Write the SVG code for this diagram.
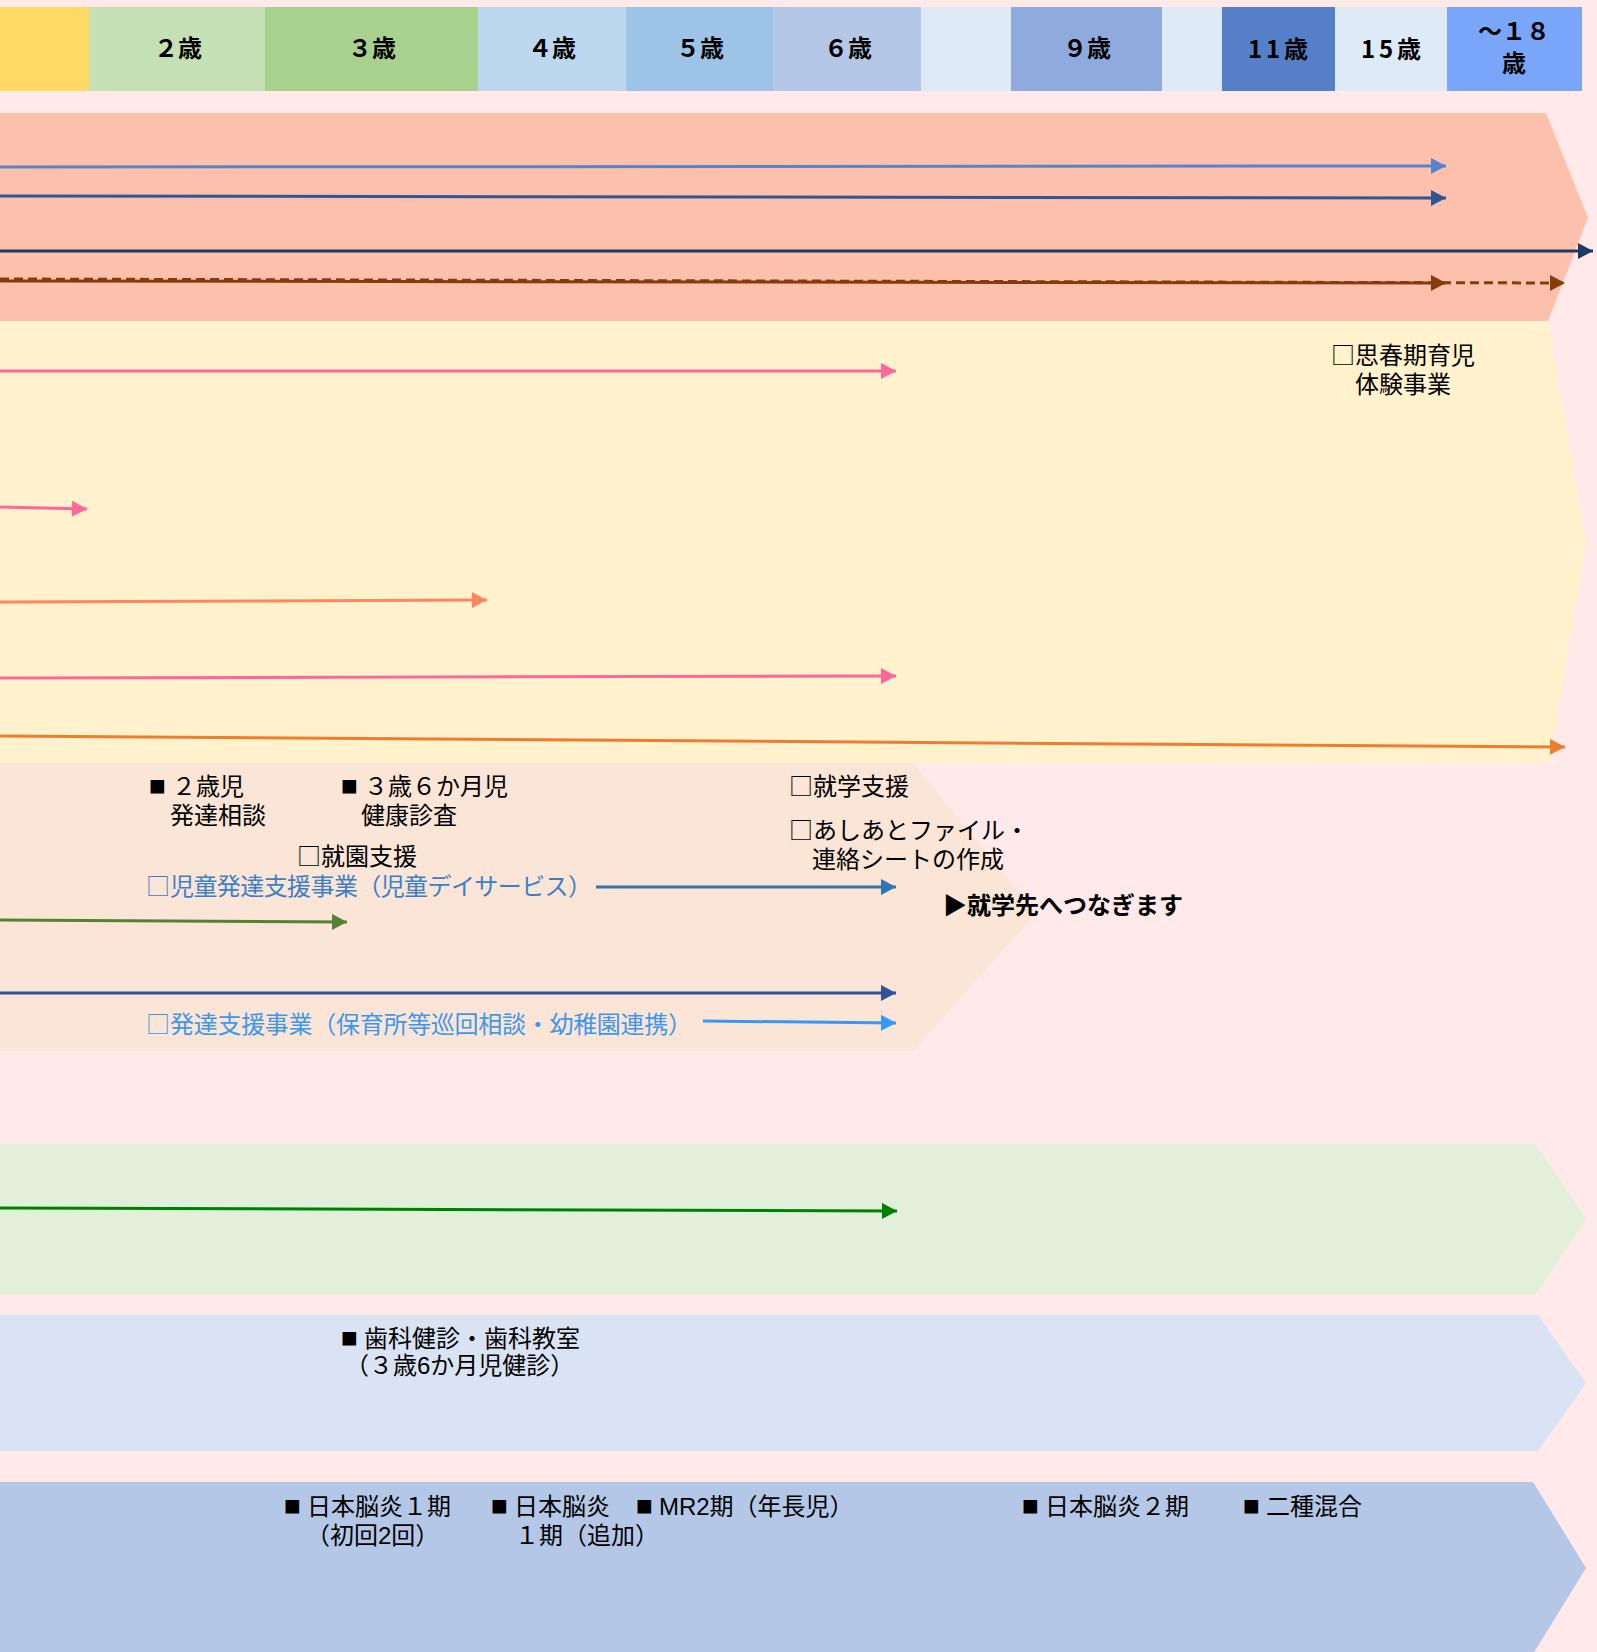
<svg xmlns="http://www.w3.org/2000/svg" width="1597" height="1652" viewBox="0 0 1597 1652">
<style>
.t{font-family:"Liberation Sans","Noto Sans CJK JP",sans-serif;font-size:24px;fill:#000}
.sq{font-family:"Noto Sans CJK JP",sans-serif}
.bk{font-size:28px}
.h{font-family:"Noto Sans CJK JP","Noto Sans",sans-serif;font-size:24px;font-weight:bold;fill:#000;text-anchor:middle}
.b{font-weight:bold}
.ln{fill:none;stroke-width:3}
</style>
<defs>
<marker id="m1" viewBox="0 0 15 16" refX="15" refY="8" markerWidth="15" markerHeight="16" markerUnits="userSpaceOnUse" orient="auto"><path d="M0,0L15,8L0,16Z" fill="#5585D0"/></marker>
<marker id="m2" viewBox="0 0 15 16" refX="15" refY="8" markerWidth="15" markerHeight="16" markerUnits="userSpaceOnUse" orient="auto"><path d="M0,0L15,8L0,16Z" fill="#2F5597"/></marker>
<marker id="m3" viewBox="0 0 15 16" refX="15" refY="8" markerWidth="15" markerHeight="16" markerUnits="userSpaceOnUse" orient="auto"><path d="M0,0L15,8L0,16Z" fill="#203864"/></marker>
<marker id="m4" viewBox="0 0 15 16" refX="15" refY="8" markerWidth="15" markerHeight="16" markerUnits="userSpaceOnUse" orient="auto"><path d="M0,0L15,8L0,16Z" fill="#843C0C"/></marker>
<marker id="m5" viewBox="0 0 15 16" refX="15" refY="8" markerWidth="15" markerHeight="16" markerUnits="userSpaceOnUse" orient="auto"><path d="M0,0L15,8L0,16Z" fill="#FF6699"/></marker>
<marker id="m6" viewBox="0 0 15 16" refX="15" refY="8" markerWidth="15" markerHeight="16" markerUnits="userSpaceOnUse" orient="auto"><path d="M0,0L15,8L0,16Z" fill="#FF8661"/></marker>
<marker id="m7" viewBox="0 0 15 16" refX="15" refY="8" markerWidth="15" markerHeight="16" markerUnits="userSpaceOnUse" orient="auto"><path d="M0,0L15,8L0,16Z" fill="#ED7D31"/></marker>
<marker id="m8" viewBox="0 0 15 16" refX="15" refY="8" markerWidth="15" markerHeight="16" markerUnits="userSpaceOnUse" orient="auto"><path d="M0,0L15,8L0,16Z" fill="#2E75B6"/></marker>
<marker id="m9" viewBox="0 0 15 16" refX="15" refY="8" markerWidth="15" markerHeight="16" markerUnits="userSpaceOnUse" orient="auto"><path d="M0,0L15,8L0,16Z" fill="#548235"/></marker>
<marker id="m10" viewBox="0 0 15 16" refX="15" refY="8" markerWidth="15" markerHeight="16" markerUnits="userSpaceOnUse" orient="auto"><path d="M0,0L15,8L0,16Z" fill="#3399FF"/></marker>
<marker id="m11" viewBox="0 0 15 16" refX="15" refY="8" markerWidth="15" markerHeight="16" markerUnits="userSpaceOnUse" orient="auto"><path d="M0,0L15,8L0,16Z" fill="#008000"/></marker>
</defs>
<rect x="0" y="0" width="1597" height="1652" fill="#FFE9E9"/>

<g id="header">
<rect x="0" y="7" width="89" height="84" fill="#FFD966"/>
<rect x="89" y="7" width="176" height="84" fill="#C5E0B4"/>
<rect x="265" y="7" width="213" height="84" fill="#A9D18E"/>
<rect x="478" y="7" width="148" height="84" fill="#BDD7EE"/>
<rect x="626" y="7" width="147" height="84" fill="#9DC3E6"/>
<rect x="773" y="7" width="148" height="84" fill="#B4C7E7"/>
<rect x="921" y="7" width="90" height="84" fill="#DEEBF7"/>
<rect x="1011" y="7" width="151" height="84" fill="#8FAADC"/>
<rect x="1162" y="7" width="60" height="84" fill="#DEEBF7"/>
<rect x="1222" y="7" width="113" height="84" fill="#5580C7"/>
<rect x="1335" y="7" width="112" height="84" fill="#DEEBF7"/>
<rect x="1447" y="7" width="135" height="84" fill="#7AA6FA"/>
<text class="h" x="178" y="57">２歳</text>
<text class="h" x="372" y="57">３歳</text>
<text class="h" x="552" y="57">４歳</text>
<text class="h" x="700" y="57">５歳</text>
<text class="h" x="848" y="57">６歳</text>
<text class="h" x="1087" y="57">９歳</text>
<text class="h" x="1278" y="58" textLength="60" lengthAdjust="spacing">11歳</text>
<text class="h" x="1391" y="58" textLength="60" lengthAdjust="spacing">15歳</text>
<text class="h" x="1514"><tspan x="1514" y="40">～１８</tspan><tspan x="1514" y="72">歳</tspan></text>
</g>

<g id="band1"><polygon points="0,113 1546,113 1588,218 1548,321 0,321" fill="#FCC0AC"/></g>
<g id="band2"><polygon points="0,321 1548,321 1586,542 1549,763 0,763" fill="#FFF2CC"/></g>
<g id="band3"><polygon points="0,763 913,763 1036,913 913,1051 0,1051" fill="#FBE5D6"/></g>
<g id="band4"><polygon points="0,1144 1535,1144 1586,1219 1535,1295 0,1295" fill="#E2EFDA"/></g>
<g id="band5"><polygon points="0,1315 1538,1315 1586,1383 1538,1451 0,1451" fill="#DAE3F3"/></g>
<g id="band6"><polygon points="0,1482 1533,1482 1586,1568 1533,1654 0,1654" fill="#B4C7E7"/></g>

<g id="connectors">
<line class="ln" x1="0" y1="167" x2="1446" y2="166" stroke="#5585D0" marker-end="url(#m1)"/>
<line class="ln" x1="0" y1="196" x2="1446" y2="198" stroke="#2F5597" marker-end="url(#m2)"/>
<line class="ln" x1="0" y1="251" x2="1593" y2="251" stroke="#203864" marker-end="url(#m3)"/>
<line class="ln" x1="0" y1="279" x2="1565" y2="283" stroke="#843C0C" stroke-dasharray="9 5" marker-end="url(#m4)"/>
<line class="ln" x1="0" y1="281" x2="1446" y2="283" stroke="#843C0C" marker-end="url(#m4)"/>
<line class="ln" x1="0" y1="371" x2="896" y2="371" stroke="#FF6699" marker-end="url(#m5)"/>
<line class="ln" x1="0" y1="507" x2="87" y2="509" stroke="#FF6699" marker-end="url(#m5)"/>
<line class="ln" x1="0" y1="602" x2="487" y2="600" stroke="#FF8661" marker-end="url(#m6)"/>
<line class="ln" x1="0" y1="678" x2="896" y2="676" stroke="#FF6699" marker-end="url(#m5)"/>
<line class="ln" x1="0" y1="736" x2="1565" y2="747" stroke="#ED7D31" marker-end="url(#m7)"/>
<line class="ln" x1="596" y1="887" x2="896" y2="887" stroke="#2E75B6" marker-end="url(#m8)"/>
<line class="ln" x1="0" y1="920" x2="347" y2="922" stroke="#548235" marker-end="url(#m9)"/>
<line class="ln" x1="0" y1="993" x2="896" y2="993" stroke="#2F5597" marker-end="url(#m2)"/>
<line class="ln" x1="703" y1="1021" x2="896" y2="1023" stroke="#3399FF" marker-end="url(#m10)"/>
<line class="ln" x1="0" y1="1208" x2="897" y2="1211" stroke="#008000" marker-end="url(#m11)"/>
</g>

<g id="label-shishunki"><text class="t"><tspan x="1331" y="364"><tspan class="sq">□</tspan>思春期育児</tspan><tspan x="1355" y="393">体験事業</tspan></text></g>
<g id="label-2sai"><text class="t"><tspan x="149" y="795"><tspan class="bk">■</tspan><tspan dx="6">２歳児</tspan></tspan><tspan x="170" y="824">発達相談</tspan></text></g>
<g id="label-3sai"><text class="t"><tspan x="341" y="795"><tspan class="bk">■</tspan><tspan dx="6">３歳６か月児</tspan></tspan><tspan x="361" y="824">健康診査</tspan></text></g>
<g id="label-shuen"><text class="t" x="297" y="865"><tspan class="sq">□</tspan>就園支援</text></g>
<g id="label-jidou"><text class="t" x="146" y="895" style="fill:#3B7FC8"><tspan class="sq">□</tspan><tspan textLength="422" lengthAdjust="spacing">児童発達支援事業（児童デイサービス）</tspan></text></g>
<g id="label-hattatsu"><text class="t" x="146" y="1033" style="fill:#3C97EE"><tspan class="sq">□</tspan><tspan textLength="522" lengthAdjust="spacing">発達支援事業（保育所等巡回相談・幼稚園連携）</tspan></text></g>
<g id="label-shugaku"><text class="t" x="789" y="795"><tspan class="sq">□</tspan>就学支援</text></g>
<g id="label-ashiato"><text class="t"><tspan x="789" y="839"><tspan class="sq">□</tspan>あしあとファイル・</tspan><tspan x="812" y="868">連絡シートの作成</tspan></text></g>
<g id="label-tsunagi"><text class="t b" x="943" y="914">▶就学先へつなぎます</text></g>
<g id="label-shika"><text class="t"><tspan x="341" y="1347"><tspan class="bk">■</tspan><tspan dx="6">歯科健診・歯科教室</tspan></tspan><tspan x="345" y="1374">（３歳6か月児健診）</tspan></text></g>
<g id="label-nouen1"><text class="t"><tspan x="284" y="1515"><tspan class="bk">■</tspan><tspan dx="6">日本脳炎１期</tspan></tspan><tspan x="306" y="1544">（初回2回）</tspan></text></g>
<g id="label-nouen1b"><text class="t"><tspan x="491" y="1515"><tspan class="bk">■</tspan><tspan dx="6">日本脳炎</tspan></tspan><tspan x="515" y="1544">１期（追加）</tspan></text></g>
<g id="label-mr2"><text class="t" x="636" y="1515"><tspan class="bk">■</tspan><tspan dx="6">MR2期（年長児）</tspan></text></g>
<g id="label-nouen2"><text class="t" x="1022" y="1515"><tspan class="bk">■</tspan><tspan dx="6">日本脳炎２期</tspan></text></g>
<g id="label-nishu"><text class="t" x="1243" y="1515"><tspan class="bk">■</tspan><tspan dx="6">二種混合</tspan></text></g>
</svg>
